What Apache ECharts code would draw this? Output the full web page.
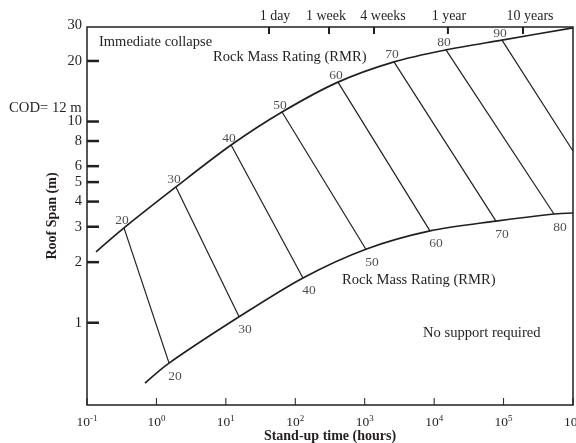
<!DOCTYPE html>
<html><head><meta charset="utf-8">
<script src="https://cdn.jsdelivr.net/npm/echarts@6/dist/echarts.min.js"></script>
<style>html,body{margin:0;padding:0;background:#fff}#c{width:576px;height:443px}</style>
</head><body><div id="c"></div>
<script>
// ---- data ----
const xTickValues = [0.1, 1, 10, 100, 1000, 10000, 100000, 1000000];
const xTickExponents = ['-1', '0', '1', '2', '3', '4', '5', '6'];
const yTickValues = [1, 2, 3, 4, 5, 6, 8, 10, 20];
const yLabelValues = [1, 2, 3, 4, 5, 6, 8, 10, 20, 30];
const topTickHours = [41.8, 306, 1361, 15800, 190500];
const topTickLabels = ['1 day', '1 week', '4 weeks', '1 year', '10 years'];

const upperCurveTime = [0.135, 0.341, 1.91, 11.9, 64.4, 412, 2640, 14800, 94900, 1000000];
const upperCurveSpan = [2.25, 2.96, 4.73, 7.64, 11.15, 15.7, 19.8, 22.7, 25.4, 29.2];
const lowerCurveTime = [0.684, 1.52, 15.5, 129, 1040, 8710, 77800, 532000, 1000000];
const lowerCurveSpan = [0.501, 0.630, 1.07, 1.67, 2.32, 2.86, 3.20, 3.47, 3.51];

const rmrValues = [20, 30, 40, 50, 60, 70, 80, 90];
const rmrUpperTime = [0.341, 1.91, 11.9, 64.4, 412, 2640, 14800, 94900];
const rmrUpperSpan = [2.96, 4.73, 7.64, 11.15, 15.7, 19.8, 22.7, 25.4];
const rmrLowerTime = [1.52, 15.5, 129, 1040, 8710, 77800, 532000, 1000000];
const rmrLowerSpan = [0.630, 1.07, 1.67, 2.32, 2.86, 3.20, 3.47, 7.14];
const rmrLowerLabelCount = 7; // RMR 90 line ends on the right border, no lower label

const X_MIN = 0.1, X_MAX = 1000000, Y_MIN = 0.39, Y_MAX = 29.5;

// ---- styles ----
const INK = '#231f20';
const FONT = '"Liberation Serif", "Times New Roman", serif';
const topLabelNudge = [6, -3, 9, 1, 7];

const chart = echarts.init(document.getElementById('c'));

const zip = (a, b) => a.map((v, i) => [v, b[i]]);

const option = {
  animation: false,
  grid: { left: 87, right: 3, top: 27, bottom: 38, show: true, borderColor: INK, borderWidth: 1.5, backgroundColor: 'transparent', containLabel: false, outerBoundsMode: 'none' },
  xAxis: {
    type: 'log', logBase: 10, min: X_MIN, max: X_MAX,
    axisLine: { show: false }, axisTick: { show: false }, axisLabel: { show: false }, splitLine: { show: false },
    name: 'Stand-up time (hours)', nameLocation: 'middle', nameGap: 24,
    nameTextStyle: { fontFamily: FONT, fontWeight: 'bold', fontSize: 14, color: INK }
  },
  yAxis: {
    type: 'log', logBase: 10, min: Y_MIN, max: Y_MAX,
    axisLine: { show: false }, axisTick: { show: false }, axisLabel: { show: false }, splitLine: { show: false },
    name: 'Roof Span (m)', nameLocation: 'middle', nameGap: 28, nameRotate: 90,
    nameTextStyle: { fontFamily: FONT, fontWeight: 'bold', fontSize: 14, color: INK }
  },
  graphic: [
    { type: 'text', x: 99, y: 42, style: { text: 'Immediate collapse', fontFamily: FONT, fontSize: 14.5, fill: INK, verticalAlign: 'middle' } },
    { type: 'text', x: 9, y: 108, style: { text: 'COD= 12 m', fontFamily: FONT, fontSize: 14.7, fill: INK, verticalAlign: 'middle' } },
    { type: 'text', x: 213, y: 57, style: { text: 'Rock Mass Rating (RMR)', fontFamily: FONT, fontSize: 14.6, fill: INK, verticalAlign: 'middle' } },
    { type: 'text', x: 342, y: 280, style: { text: 'Rock Mass Rating (RMR)', fontFamily: FONT, fontSize: 14.6, fill: INK, verticalAlign: 'middle' } },
    { type: 'text', x: 423, y: 333, style: { text: 'No support required', fontFamily: FONT, fontSize: 14.6, fill: INK, verticalAlign: 'middle' } }
  ],
  series: [
    {
      type: 'line', data: zip(upperCurveTime, upperCurveSpan), smooth: 0.3, showSymbol: false,
      lineStyle: { color: INK, width: 1.7 }, silent: true
    },
    {
      type: 'line', data: zip(lowerCurveTime, lowerCurveSpan), smooth: 0.3, showSymbol: false,
      lineStyle: { color: INK, width: 1.7 }, silent: true
    },
    {
      type: 'lines', coordinateSystem: 'cartesian2d', silent: true,
      lineStyle: { color: INK, width: 1.2, opacity: 1 },
      data: rmrValues.map((r, i) => ({ coords: [[rmrUpperTime[i], rmrUpperSpan[i]], [rmrLowerTime[i], rmrLowerSpan[i]]] }))
    },
    {
      type: 'scatter', symbolSize: 0.01, silent: true,
      data: rmrValues.map((r, i) => [rmrUpperTime[i], rmrUpperSpan[i], r]),
      label: { show: true, position: 'inside', offset: [-2, -7], formatter: p => String(p.value[2]), fontFamily: FONT, fontSize: 13.5, color: INK }
    },
    {
      type: 'scatter', symbolSize: 0.01, silent: true,
      data: rmrValues.slice(0, rmrLowerLabelCount).map((r, i) => [rmrLowerTime[i], rmrLowerSpan[i], r]),
      label: { show: true, position: 'inside', offset: [6, 13], formatter: p => String(p.value[2]), fontFamily: FONT, fontSize: 13.5, color: INK }
    },
    // bottom x ticks and labels
    {
      type: 'custom', coordinateSystem: 'cartesian2d', silent: true, clip: false,
      data: xTickValues.map(v => [v, Y_MIN]),
      renderItem: (params, api) => {
        const p = api.coord([api.value(0), Y_MIN]);
        const e = xTickExponents[params.dataIndex];
        return { type: 'group', children: [
          { type: 'line', shape: { x1: p[0], y1: p[1], x2: p[0], y2: p[1] - 7 }, style: { stroke: INK, lineWidth: 1 } },
          { type: 'text', x: p[0], y: p[1] + 9, style: {
            text: '{b|10}{s|' + e + '}', align: 'center', verticalAlign: 'top', fill: INK,
            rich: { b: { fontFamily: FONT, fontSize: 13.5, lineHeight: 17, fill: INK }, s: { fontFamily: FONT, fontSize: 9, verticalAlign: 'top', lineHeight: 10, fill: INK } }
          } }
        ] };
      }
    },
    // left y ticks
    {
      type: 'custom', coordinateSystem: 'cartesian2d', silent: true, clip: false,
      data: yTickValues.map(v => [X_MIN, v]),
      renderItem: (params, api) => {
        const p = api.coord([X_MIN, api.value(1)]);
        return { type: 'line', shape: { x1: p[0], y1: p[1], x2: p[0] + 12, y2: p[1] }, style: { stroke: INK, lineWidth: 2.5 } };
      }
    },
    // left y labels
    {
      type: 'custom', coordinateSystem: 'cartesian2d', silent: true, clip: false,
      data: yLabelValues.map(v => [X_MIN, v]),
      renderItem: (params, api) => {
        const p = api.coord([X_MIN, api.value(1)]);
        return { type: 'text', x: p[0] - 5, y: p[1], style: { text: String(yLabelValues[params.dataIndex]), align: 'right', verticalAlign: 'middle', fontFamily: FONT, fontSize: 14.5, fill: INK } };
      }
    },
    // top time ticks and labels
    {
      type: 'custom', coordinateSystem: 'cartesian2d', silent: true, clip: false,
      data: topTickHours.map(v => [v, Y_MAX]),
      renderItem: (params, api) => {
        const p = api.coord([api.value(0), Y_MAX]);
        return { type: 'group', children: [
          { type: 'line', shape: { x1: p[0], y1: p[1], x2: p[0], y2: p[1] + 7 }, style: { stroke: INK, lineWidth: 2 } },
          { type: 'text', x: p[0] + topLabelNudge[params.dataIndex], y: p[1] - 4, style: { text: topTickLabels[params.dataIndex], align: 'center', verticalAlign: 'bottom', fontFamily: FONT, fontSize: 14, fill: INK } }
        ] };
      }
    }
  ]
};
chart.setOption(option);
</script>
</body></html>
